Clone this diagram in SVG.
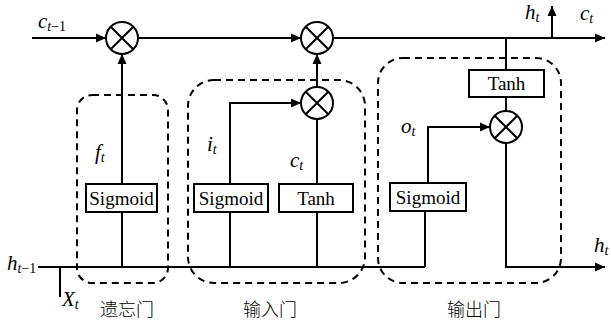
<svg xmlns="http://www.w3.org/2000/svg" width="611" height="322" viewBox="0 0 611 322">
<defs>
<marker id="arr" viewBox="0 0 10 10" refX="10" refY="5" markerWidth="10" markerHeight="10" markerUnits="userSpaceOnUse" orient="auto">
<path d="M0,0.5 L10,5 L0,9.5 Z" fill="#000"/>
</marker>
<style>
.ln{fill:none;stroke:#000;stroke-width:2}
.ds{fill:none;stroke:#000;stroke-width:2;stroke-dasharray:7,5}
.bx{fill:#fff;stroke:#000;stroke-width:2}
.op{fill:#fff;stroke:#000;stroke-width:2}
.t{font-family:"Liberation Serif","Times New Roman",serif;font-size:19px;fill:#000}
.i{font-family:"Liberation Serif","Times New Roman",serif;font-style:italic;font-size:21px;fill:#000}
.s{font-size:14px}
.cn{font-family:"Noto Sans CJK SC","Noto Sans",sans-serif;font-size:18px;font-weight:300;fill:#000}
</style>
</defs>
<rect width="611" height="322" fill="#fff"/>
<g id="gates">
<rect id="forget-gate" class="ds" x="77" y="95" width="91" height="188" rx="15"/>
<rect id="input-gate" class="ds" x="188" y="80" width="177" height="203" rx="26"/>
<rect id="output-gate" class="ds" x="378" y="58" width="183" height="225" rx="25"/>
</g>
<g id="connectors">
<path class="ln" d="M32,38 H106" marker-end="url(#arr)"/>
<path class="ln" d="M138,38 H301" marker-end="url(#arr)"/>
<path class="ln" d="M333,38 H605" marker-end="url(#arr)"/>
<path class="ln" d="M552,38 V6" marker-end="url(#arr)"/>
<path class="ln" d="M38,267 H425"/>
<path class="ln" d="M60,267 V297"/>
<path class="ln" d="M122,267 V54" marker-end="url(#arr)"/>
<path class="ln" d="M230,267 V103 H301" marker-end="url(#arr)"/>
<path class="ln" d="M317,267 V119"/>
<path class="ln" d="M317,87 V54" marker-end="url(#arr)"/>
<path class="ln" d="M425,267 V198"/>
<path class="ln" d="M428,198 V127 H490" marker-end="url(#arr)"/>
<path class="ln" d="M506,38 V111"/>
<path class="ln" d="M506,143 V267 H605" marker-end="url(#arr)"/>
</g>
<g id="mul-forget"><circle class="op" cx="122" cy="38" r="16"/><path class="ln" d="M110.7,26.7 L133.3,49.3 M133.3,26.7 L110.7,49.3"/></g>
<g id="mul-cell"><circle class="op" cx="317" cy="38" r="16"/><path class="ln" d="M305.7,26.7 L328.3,49.3 M328.3,26.7 L305.7,49.3"/></g>
<g id="mul-input"><circle class="op" cx="317" cy="103" r="16"/><path class="ln" d="M305.7,91.7 L328.3,114.3 M328.3,91.7 L305.7,114.3"/></g>
<g id="mul-output"><circle class="op" cx="506" cy="127" r="16"/><path class="ln" d="M494.7,115.7 L517.3,138.3 M517.3,115.7 L494.7,138.3"/></g>
<g id="sigmoid-forget"><rect class="bx" x="86" y="184" width="71" height="28"/><text class="t" x="121.5" y="204.5" text-anchor="middle">Sigmoid</text></g>
<g id="sigmoid-input"><rect class="bx" x="194" y="184" width="74" height="28"/><text class="t" x="231" y="204.5" text-anchor="middle">Sigmoid</text></g>
<g id="tanh-input"><rect class="bx" x="279" y="184" width="74" height="28"/><text class="t" x="316" y="204.5" text-anchor="middle">Tanh</text></g>
<g id="sigmoid-output"><rect class="bx" x="390" y="183" width="76" height="28"/><text class="t" x="428" y="203.5" text-anchor="middle">Sigmoid</text></g>
<g id="tanh-output"><rect class="bx" x="469" y="70" width="75" height="27"/><text class="t" x="506.5" y="90" text-anchor="middle">Tanh</text></g>
<g id="labels">
<text class="i" x="38" y="28">c<tspan class="s" dy="3">t</tspan><tspan class="s" font-style="normal">−1</tspan></text>
<text class="i" x="525" y="19">h<tspan class="s" dy="3">t</tspan></text>
<text class="i" x="580" y="20">c<tspan class="s" dy="3">t</tspan></text>
<text class="i" x="95" y="159">f<tspan class="s" dy="3">t</tspan></text>
<text class="i" x="207" y="151">i<tspan class="s" dy="3">t</tspan></text>
<text class="i" x="290" y="167">c<tspan class="s" dy="3">t</tspan></text>
<text class="i" x="401" y="133">o<tspan class="s" dy="3">t</tspan></text>
<text class="i" x="7" y="270">h<tspan class="s" dy="3">t</tspan><tspan class="s" font-style="normal">−1</tspan></text>
<text class="i" x="62" y="306">X<tspan class="s" dy="3">t</tspan></text>
<text class="i" x="594" y="252">h<tspan class="s" dy="3">t</tspan></text>
<text class="cn" x="100" y="316">遗忘门</text>
<text class="cn" x="243" y="316">输入门</text>
<text class="cn" x="447" y="316">输出门</text>
</g>
</svg>
